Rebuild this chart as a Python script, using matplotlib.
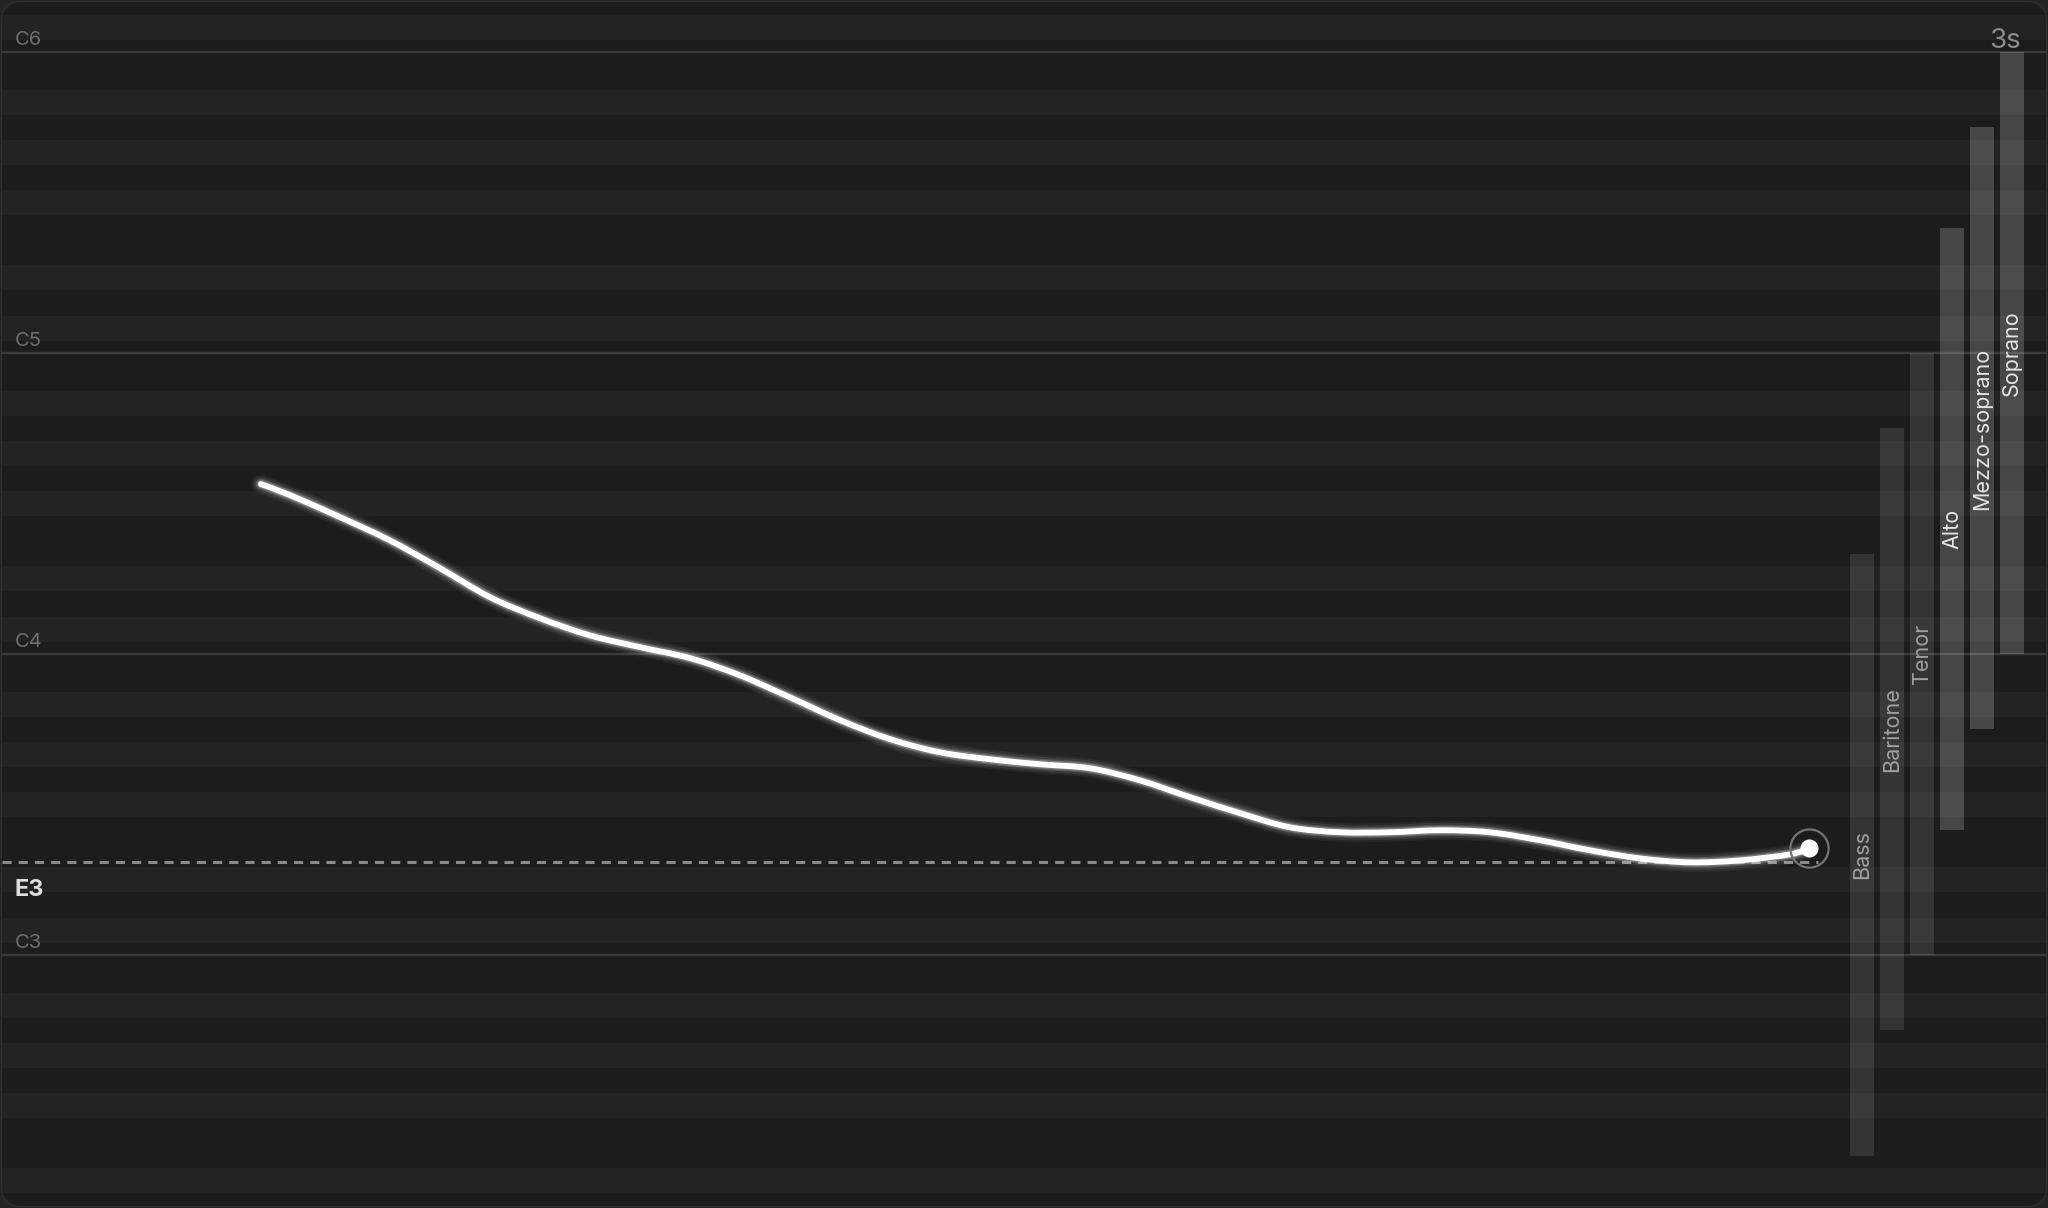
import numpy as np
import matplotlib
matplotlib.use('Agg')
import matplotlib.pyplot as plt
from matplotlib.patches import FancyBboxPatch, PathPatch
from matplotlib.path import Path

plt.rcParams['font.family'] = ['Inter', 'DejaVu Sans']

# pitch track: time in seconds, pitch as midi note number
times = [0.418, 0.465, 0.546, 0.626, 0.707, 0.788, 0.869, 0.949, 1.030, 1.111,
         1.191, 1.272, 1.353, 1.434, 1.514, 1.595, 1.676, 1.757, 1.837, 1.918,
         1.999, 2.079, 2.160, 2.241, 2.322, 2.402, 2.483, 2.564, 2.644, 2.725,
         2.806, 2.887, 2.917]
pitch = [66.78, 66.34, 65.46, 64.54, 63.43, 62.27, 61.43, 60.75, 60.28, 59.84,
         59.16, 58.28, 57.37, 56.61, 56.09, 55.81, 55.61, 55.45, 54.97, 54.30,
         53.66, 53.10, 52.90, 52.90, 52.98, 52.90, 52.58, 52.18, 51.86, 51.70,
         51.78, 52.02, 52.26]

# voice ranges (midi)
voices = ['Bass', 'Baritone', 'Tenor', 'Alto', 'Mezzo-soprano', 'Soprano']
voice_low = [40, 45, 48, 53, 57, 60]
voice_high = [64, 69, 72, 77, 81, 84]
voice_active = [False, False, False, True, True, True]

octave_lines = [48, 60, 72, 84]
window_label = '3s'
note_names = ['C', 'C#', 'D', 'D#', 'E', 'F', 'F#', 'G', 'G#', 'A', 'A#', 'B']

W, H, DPI = 2048, 1208, 100
XMAX = 3.3
px_s = 2044 / XMAX


def smooth_path(x, y):
    # catmull-rom through the points, drawn as bezier segments
    pts = np.column_stack([x, y])
    n = len(pts)
    verts, codes = [pts[0]], [Path.MOVETO]
    for i in range(n - 1):
        p0, p1 = pts[max(i - 1, 0)], pts[i]
        p2, p3 = pts[i + 1], pts[min(i + 2, n - 1)]
        verts += [p1 + (p2 - p0) / 6, p2 - (p3 - p1) / 6, p2]
        codes += [Path.CURVE4] * 3
    return Path(verts, codes)


fig = plt.figure(figsize=(W / DPI, H / DPI), dpi=DPI, facecolor='#252525')
ax = fig.add_axes([2 / W, 2 / H, 2044 / W, 1204 / H])
ax.set_xlim(0, XMAX)
ax.set_ylim(38, 86)
ax.axis('off')

panel = FancyBboxPatch((2 / DPI, 2 / DPI), 2044 / DPI, 1204 / DPI,
                       boxstyle='round,pad=0,rounding_size=0.2',
                       transform=fig.dpi_scale_trans, facecolor='#1c1c1c',
                       edgecolor='#313131', lw=1.5, clip_on=False, zorder=0)
ax.add_patch(panel)

# piano-roll stripes, black keys lighter
rows = np.arange(38, 87)
black = np.isin(rows % 12, [1, 3, 6, 8, 10])
stripes = ax.barh(rows, XMAX, left=0, height=1.0, linewidth=0,
                  color=np.where(black, '#232323', '#1c1c1c'), zorder=1)
for s in stripes:
    s.set_clip_path(panel)

ytr = ax.get_yaxis_transform()
for m in octave_lines:
    ln = ax.axhline(m, color='#3b3b3b', lw=1.7, zorder=2)
    ln.set_clip_path(panel)
    ax.text(13 / 2044, m + 0.3, 'C%d' % (m // 12 - 1), transform=ytr,
            fontsize=14.5, color='#6e6e6e', va='baseline', ha='left', zorder=4)

# voice range bars
bar_x = [(1862 - 2 + 30 * i) / px_s for i in range(len(voices))]
bar_w = 24 / px_s
heights = [h - l for l, h in zip(voice_low, voice_high)]
bcols = [(1, 1, 1, 0.19) if a else (1, 1, 1, 0.105) for a in voice_active]
ax.bar(bar_x, heights, bottom=voice_low, width=bar_w, color=bcols,
       linewidth=0, zorder=3)
for x, name, l, h, a in zip(bar_x, voices, voice_low, voice_high, voice_active):
    ax.text(x, (l + h) / 2, name, rotation=90, ha='center', va='center',
            fontsize=15.5, color='#e4e4e4' if a else '#a0a0a0', zorder=4)

ax.text((2021 - 2) / 2044, 1 - (48 - 2) / 1204, window_label,
        transform=ax.transAxes, ha='right', va='baseline', fontsize=20,
        color='#8c8c8c', zorder=4)

# lowest pitch marker
lo = min(pitch)
ax.plot([0, times[-1] + 0.015], [lo, lo], color='#8a8a8a', lw=2.2,
        ls=(0, (3.0, 2.3)), dash_capstyle='butt', zorder=5)
n = int(round(lo))
ax.text(13 / 2044, lo - 1.36, note_names[n % 12] + str(n // 12 - 1),
        transform=ytr, fontsize=17, fontweight='bold', color='#dedede',
        va='baseline', ha='left', zorder=4)

# pitch curve with glow
curve = smooth_path(times, pitch)
for lw, a in [(19, 0.05), (15, 0.08), (11, 0.14), (8.5, 0.22)]:
    ax.add_patch(PathPatch(curve, fill=False, edgecolor='white', alpha=a,
                           lw=lw * 0.72, capstyle='round', zorder=6))
ax.add_patch(PathPatch(curve, fill=False, edgecolor='white', lw=4.2,
                       capstyle='round', joinstyle='round', zorder=6))

ax.plot(times[-1], pitch[-1], 'o', ms=27.5, mfc='none', mec='#737373',
        mew=1.6, zorder=7)
ax.plot(times[-1], pitch[-1], 'o', ms=13, color='white', mec='none', zorder=8)

fig.savefig('out.png', dpi=DPI, facecolor=fig.get_facecolor())
